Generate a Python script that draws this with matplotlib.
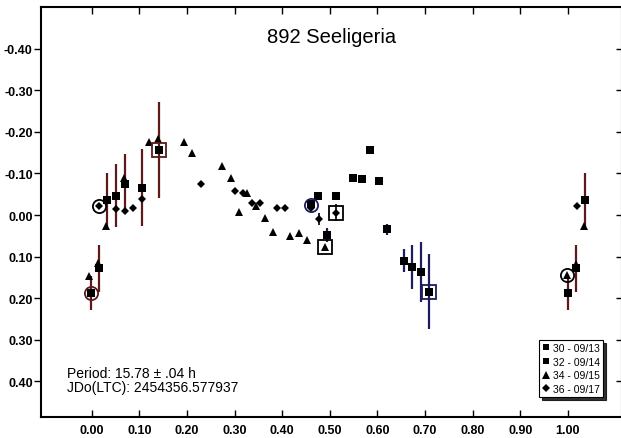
import matplotlib
matplotlib.use("Agg")
import matplotlib.pyplot as plt
from matplotlib.lines import Line2D

plt.rcParams['font.family'] = ['Liberation Sans', 'DejaVu Sans']
plt.rcParams['axes.unicode_minus'] = False

# ---- data ----
title = "892 Seeligeria"
period_text = "Period: 15.78 \u00b1 .04 h"
jd_text = "JDo(LTC): 2454356.577937"
series_labels = ["30 - 09/13", "32 - 09/14", "34 - 09/15", "36 - 09/17"]

s30_phase = [-0.002, 0.015, 0.033, 0.051, 0.070, 0.105, 0.142, 1.000, 1.017, 1.036]
s30_mag = [0.1875, 0.128, -0.036, -0.046, -0.0745, -0.066, -0.156, 0.1875, 0.128, -0.036]
s30_err = [0.042, 0.057, 0.065, 0.076, 0.072, 0.093, 0.116, 0.042, 0.057, 0.065]

s32_phase = [0.460, 0.476, 0.495, 0.513, 0.548, 0.567, 0.585, 0.603, 0.621, 0.655, 0.673, 0.692, 0.709]
s32_mag = [-0.026, -0.046, 0.048, -0.046, -0.089, -0.0865, -0.156, -0.0825, 0.034, 0.110, 0.124, 0.136, 0.184]
s32_err = [0.006, 0.004, 0.016, 0.004, 0.003, 0.003, 0.003, 0.003, 0.013, 0.028, 0.053, 0.072, 0.090]

s34_phase = [-0.005, 0.014, 0.031, 0.068, 0.120, 0.139, 0.193, 0.210, 0.274, 0.292, 0.310,
             0.327, 0.345, 0.363, 0.380, 0.417, 0.435, 0.453, 0.489, 0.998, 1.017, 1.033]
s34_mag = [0.146, 0.116, 0.026, -0.088, -0.175, -0.183, -0.176, -0.148, -0.118, -0.088, -0.008,
           -0.054, -0.021, 0.007, 0.040, 0.051, 0.044, 0.059, 0.078, 0.144, 0.118, 0.026]

s36_phase = [0.016, 0.052, 0.069, 0.087, 0.105, 0.230, 0.300, 0.317, 0.336, 0.354, 0.390,
             0.406, 0.461, 0.478, 0.513, 1.019]
s36_mag = [-0.022, -0.014, -0.010, -0.018, -0.038, -0.0745, -0.057, -0.053, -0.029, -0.028, -0.017,
           -0.016, -0.017, 0.0096, -0.006, -0.022]
s36_err = [0, 0, 0, 0, 0, 0, 0, 0, 0, 0, 0, 0, 0, 0.015, 0.020, 0]

circle_phase = [-0.002, 0.016, 0.460, 0.998]
circle_mag = [0.1875, -0.022, -0.024, 0.144]
box_phase = [0.142, 0.489, 0.513, 0.709]
box_mag = [-0.156, 0.078, -0.006, 0.184]

x_ticks = [0.0, 0.1, 0.2, 0.3, 0.4, 0.5, 0.6, 0.7, 0.8, 0.9, 1.0]
y_ticks = [-0.4, -0.3, -0.2, -0.1, 0.0, 0.1, 0.2, 0.3, 0.4]

# ---- styles ----
MAROON = '#5c1a1a'
NAVY = '#1c1c5e'
circle_colors = [MAROON, 'black', NAVY, 'black']
box_colors = [MAROON, 'black', 'black', NAVY]

W, H = 621, 439
fig = plt.figure(figsize=(W / 100, H / 100), dpi=100)
ax = fig.add_axes([41 / W, 21 / H, (622 - 41) / W, (418 - 8) / H])

ax.errorbar(s30_phase, s30_mag, yerr=s30_err, fmt='none', ecolor=MAROON, elinewidth=1.6, capsize=0, zorder=2)
ax.errorbar(s32_phase, s32_mag, yerr=s32_err, fmt='none', ecolor=NAVY, elinewidth=1.6, capsize=0, zorder=2)
ax.errorbar(s36_phase, s36_mag, yerr=s36_err, fmt='none', ecolor='#222222', elinewidth=1.4, capsize=0, zorder=2)

ax.plot(s30_phase, s30_mag, 's', color='black', ms=5.2, mew=0, zorder=3)
ax.plot(s32_phase, s32_mag, 's', color='black', ms=5.2, mew=0, zorder=3)
ax.plot(s34_phase, s34_mag, '^', color='black', ms=5.5, mew=0, zorder=3)
ax.plot(s36_phase, s36_mag, 'D', color='black', ms=4.0, mew=0, zorder=3)

for px, py, c in zip(circle_phase, circle_mag, circle_colors):
    ax.plot([px], [py], 'o', mfc='none', mec=c, ms=9.5, mew=1.3, zorder=4)
for px, py, c in zip(box_phase, box_mag, box_colors):
    ax.plot([px], [py], 's', mfc='none', mec=c, ms=9.5, mew=1.3, zorder=4)

ax.set_xlim(-0.1065, 1.1135)
ax.set_ylim(0.4855, -0.5)
ax.set_xticks(x_ticks)
ax.set_xticklabels([f"{v:.2f}" for v in x_ticks])
ax.set_yticks(y_ticks)
ax.set_yticklabels([f"{v:.2f}" for v in y_ticks])

for s in ax.spines.values():
    s.set_linewidth(1.5)
ax.tick_params(axis='x', direction='in', length=5, width=1.0, top=True, bottom=True,
               labelsize=9, pad=5)
ax.tick_params(axis='y', direction='out', length=5, width=1.0, labelsize=9, pad=1)
for lab in ax.get_xticklabels() + ax.get_yticklabels():
    lab.set_fontweight('bold')

sec = ax.secondary_yaxis('right')
sec.set_yticks(y_ticks)
sec.tick_params(direction='in', length=4, width=1.0, labelright=False)

ax.text(0.5, 0.915, title, transform=ax.transAxes, ha='center', va='baseline', fontsize=14.5)
ax.text(-0.052, 0.380, period_text, ha='left', va='center', fontsize=10)
ax.text(-0.052, 0.413, jd_text, ha='left', va='center', fontsize=10)

handles = [
    Line2D([], [], marker='s', ls='none', color='black', ms=5, mew=0),
    Line2D([], [], marker='s', ls='none', color='black', ms=5, mew=0),
    Line2D([], [], marker='^', ls='none', color='black', ms=5.5, mew=0),
    Line2D([], [], marker='D', ls='none', color='black', ms=3.8, mew=0),
]
leg = fig.legend(handles, series_labels, loc='lower right', bbox_to_anchor=(603 / W, (H - 398) / H),
                 fontsize=7.5, frameon=True, fancybox=False, shadow={'color': 'black', 'alpha': 0.8},
                 edgecolor='black', framealpha=1, handlelength=0.6, handletextpad=0.4,
                 borderpad=0.3, labelspacing=0.35, borderaxespad=0)
leg.get_frame().set_linewidth(0.8)

fig.savefig('out.png', dpi=100)
